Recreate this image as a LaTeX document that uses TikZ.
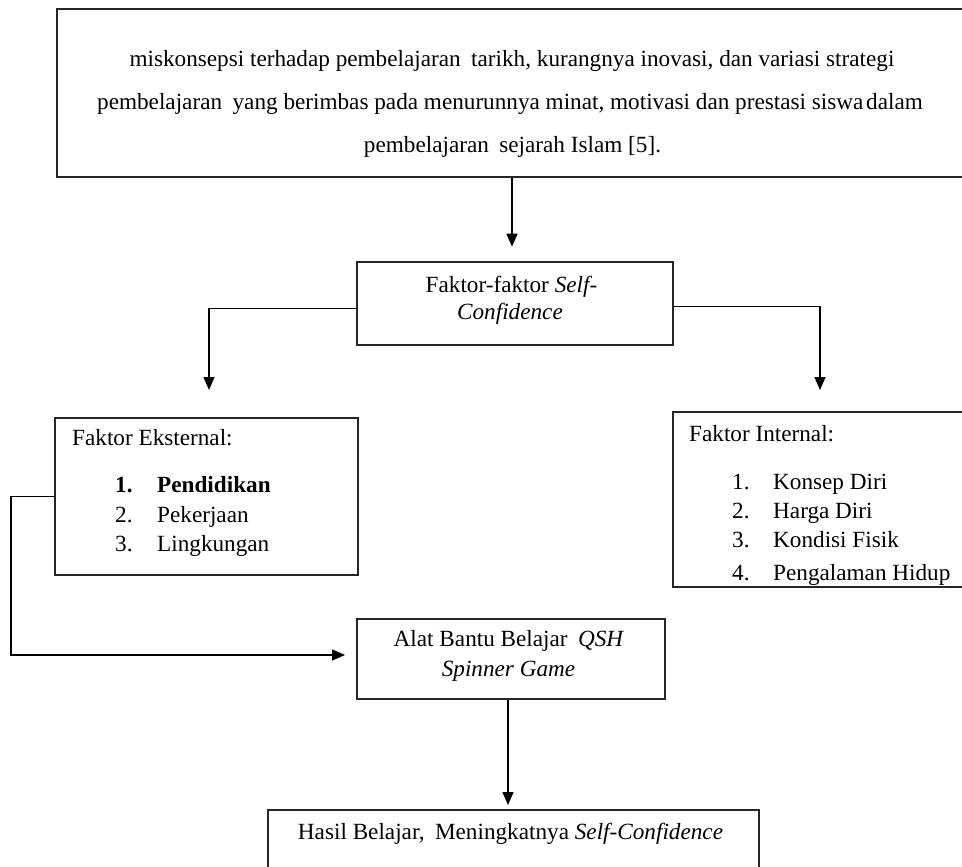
\documentclass[tikz,border=0pt]{standalone}
\usepackage{fontspec}
\setmainfont{Liberation Serif}
\usetikzlibrary{arrows.meta}
\newcommand{\fsz}{\fontsize{23.2pt}{28pt}\selectfont}
\tikzset{
  box/.style={draw=black!85, line width=1.8pt, inner sep=0pt, anchor=north west},
  arr/.style={draw=black, line width=1.4pt, -{Triangle[length=13pt,width=11pt]}},
  txt/.style={inner sep=0pt, font=\fsz, anchor=base},
  txl/.style={inner sep=0pt, font=\fsz, anchor=base west},
}
\begin{document}
\begin{tikzpicture}[x=1pt,y=-1pt]
\clip (0,0) rectangle (962,867);
\fill[white] (0,0) rectangle (962,867);

% boxes
\node[box, minimum width=914pt, minimum height=168pt] (top) at (56,8) {};
\node[box, minimum width=316pt, minimum height=83pt] (faktor) at (356,261) {};
\node[box, minimum width=303pt, minimum height=157pt] (ext) at (54,417) {};
\node[box, minimum width=296pt, minimum height=175pt] (int) at (672,411) {};
\node[box, minimum width=308pt, minimum height=80pt] (alat) at (356,618) {};
\node[box, minimum width=491pt, minimum height=80pt] (hasil) at (267,809) {};

% top text
\node[txt] (l1) at (512,66.7) {miskonsepsi terhadap pembelajaran\hspace{0.45em}tarikh, kurangnya inovasi, dan variasi strategi};
\node[txt] (l2) at (510,110) {pembelajaran\hspace{0.45em}yang berimbas pada menurunnya minat, motivasi dan prestasi siswa\hspace{0.12em}dalam};
\node[txt] (l3) at (512.5,153) {pembelajaran\hspace{0.45em}sejarah Islam [5].};

% faktor text
\node[txt] (f1) at (511.5,292) {Faktor-faktor \textit{Self-}};
\node[txt] (f2) at (510,319) {\textit{Confidence}};

% external
\node[txl] (eh) at (72,445) {Faktor Eksternal:};
\node[txl] (en1) at (115,492.7) {\textbf{1.}};
\node[txl] (et1) at (157,492.7) {\textbf{Pendidikan}};
\node[txl] (en2) at (115,522.7) {2.};
\node[txl] (et2) at (157,522.7) {Pekerjaan};
\node[txl] (en3) at (115,551.7) {3.};
\node[txl] (et3) at (157,551.7) {Lingkungan};

% internal
\node[txl] (ih) at (689,441.7) {Faktor Internal:};
\node[txl] (in1) at (732,489.3) {1.};
\node[txl] (it1) at (773,489.3) {Konsep Diri};
\node[txl] (in2) at (732,518.3) {2.};
\node[txl] (it2) at (773,518.3) {Harga Diri};
\node[txl] (in3) at (732,547.7) {3.};
\node[txl] (it3) at (773,547.7) {Kondisi Fisik};
\begin{scope}
\clip (int.north west) rectangle (int.south east);
\node[txl] (in4) at (732,580) {4.};
\node[txl] (it4) at (773,580) {Pengalaman Hidup};
\end{scope}

% alat text
\node[txt] (a1) at (509,646) {Alat Bantu Belajar\hspace{0.45em}\textit{QSH}};
\node[txt] (a2) at (508.5,676.7) {\textit{Spinner Game}};

% hasil text
\node[txt] (h1) at (510.5,839) {Hasil Belajar,\hspace{0.45em}Meningkatnya \textit{Self-Confidence}};

% connector coordinates
\coordinate (tipT) at (512,246.7);
\coordinate (tipL) at (209,390);
\coordinate (tipR) at (820,390);
\coordinate (loopx) at (11,0);
\coordinate (tipA) at (345,655);
\coordinate (tipH) at (508,805);

% connectors
\draw[arr] (top.south -| tipT) -- (tipT);
\draw[arr] ([yshift=-5pt]faktor.west) -| (tipL);
\draw[arr] ([yshift=-3pt]faktor.east) -| (tipR);
\draw[arr] (ext.west) -- (loopx |- ext.west) -- (loopx |- tipA) -- (tipA);
\draw[arr] (alat.south -| tipH) -- (tipH);
\end{tikzpicture}
\end{document}
